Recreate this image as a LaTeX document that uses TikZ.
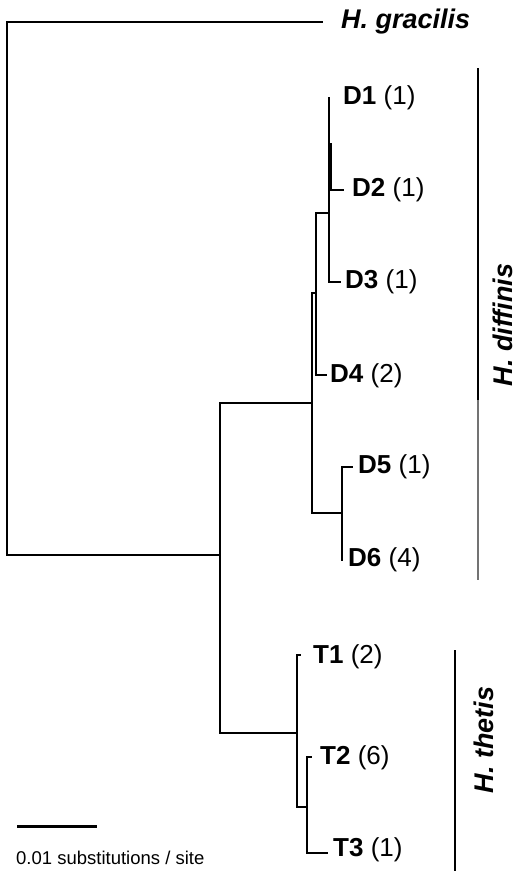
\documentclass[tikz,border=0pt]{standalone}
\usepackage{fontspec}
\setmainfont{Liberation Sans}
\begin{document}
\begin{tikzpicture}[x=1pt,y=-1pt,
  br/.style={line width=2.6pt, line cap=rect},
  tip/.style={anchor=west, inner sep=0pt, font=\fontsize{26}{30}\selectfont},
  sp/.style={inner sep=0pt, font=\fontsize{27}{30}\selectfont\bfseries\itshape},
  clade/.style={line width=1.5pt}]
\useasboundingbox (0,0) rectangle (525,871);
% internal points
\coordinate (R) at (7,22);
\coordinate (Rb) at (7,555);
\coordinate (A) at (220,555);
\coordinate (At) at (220,403);
\coordinate (Ab) at (220,733);
\coordinate (B) at (312,403);
\coordinate (Bt) at (312,293);
\coordinate (Bb) at (312,513);
\coordinate (C) at (316,293);
\coordinate (Ct) at (316,213);
\coordinate (Cb) at (316,375);
\coordinate (D) at (329,213);
\coordinate (Dt) at (329,98);
\coordinate (Db) at (329,282);
\coordinate (E) at (342,513);
\coordinate (Et) at (342,467);
\coordinate (Eb) at (342,560);
\coordinate (F) at (297,733);
\coordinate (Ft) at (297,655);
\coordinate (Fb) at (297,807);
\coordinate (G) at (307,807);
\coordinate (Gt) at (307,757);
\coordinate (Gb) at (307,853);
\coordinate (grend) at (322,22);
% leaves
\node[sp, anchor=west] (gr) at (341,22) {H. gracilis};
\node[tip] (d1) at (343,98) {\textbf{D1} (1)};
\node[tip] (d2) at (352,190) {\textbf{D2} (1)};
\node[tip] (d3) at (345,282) {\textbf{D3} (1)};
\node[tip] (d4) at (330,376) {\textbf{D4} (2)};
\node[tip] (d5) at (358,467) {\textbf{D5} (1)};
\node[tip] (d6) at (348,560) {\textbf{D6} (4)};
\node[tip] (t1) at (313,657) {\textbf{T1} (2)};
\node[tip] (t2) at (320,758) {\textbf{T2} (6)};
\node[tip] (t3) at (333,850) {\textbf{T3} (1)};
% branches
\draw[br] (grend) -- (R) -- (Rb) -- (A);
\draw[br] (At) -- (Ab);
\draw[br] (At) -- (B);
\draw[br] (Bt) -- (Bb);
\draw[br] (Bt) -- (C);
\draw[br] (Ct) -- (Cb) -- ++(10,0) coordinate (d4e);
\draw[br] (Ct) -- (D);
\draw[br] (Dt) -- (Db) -- ++(11,0);
\draw[br] (329,190) -- ++(14,0);
\draw[line width=3.4pt] (330.5,143) -- (330.5,190);
\draw[br] (Bb) -- (E);
\draw[br] (Et) -- (Eb);
\draw[br] (Et) -- ++(10,0);
\draw[br] (Ab) -- (F);
\draw[br] (Ft) -- (Fb) -- (G);
\draw[br] (Ft) -- ++(3,0);
\draw[br] (Gt) -- (Gb) -- ++(20,0);
\draw[br] (Gt) -- ++(4,0);
% clade bars
\coordinate (dft) at (478,68);
\coordinate (dfm) at (478,400);
\coordinate (dfb) at (478,580);
\coordinate (tht) at (455,650);
\coordinate (thb) at (455,871);
\draw[clade] (dft) -- (dfm);
\draw[clade, black!55] (dfm) -- (dfb);
\draw[clade] (tht) -- (thb);
\node[sp, rotate=90] (dif) at (503,325) {H. diffinis};
\node[sp, rotate=90] (the) at (484,740) {H. thetis};
% scale bar
\coordinate (s1) at (17,826);
\coordinate (s2) at (97,826);
\draw[line width=3pt] (s1) -- (s2);
\node[anchor=west, inner sep=0pt, font=\fontsize{18.5}{22}\selectfont] (sc) at (16,858) {0.01 substitutions / site};
\end{tikzpicture}
\end{document}
